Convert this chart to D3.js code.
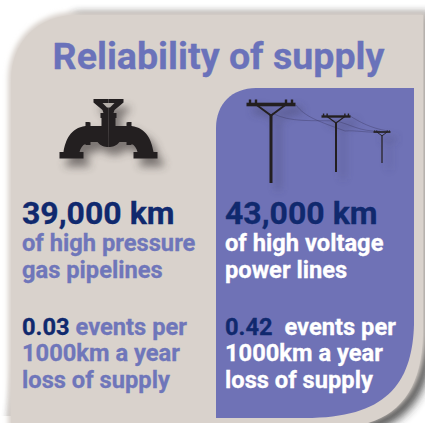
<!DOCTYPE html>
<html>
<head>
<meta charset="utf-8">
<script src="https://cdn.jsdelivr.net/npm/d3@7"></script>
<style>
  html, body { margin: 0; padding: 0; background: #fff; }
  svg { display: block; }
  text { font-family: Roboto, sans-serif; font-weight: 700; stroke-width: 0.3; }
</style>
</head>
<body>
<script>
const width = 425;
const height = 423;

const title = "Reliability of supply";
const lengthsKm = [39000, 43000];
const assetLines = [["of high pressure", "gas pipelines"], ["of high voltage", "power lines"]];
const eventRates = [0.03, 0.42];
const eventGaps = [" ", "\u00a0 "];
const eventLines = ["events per", "1000km a year", "loss of supply"];

const columnX = [22, 225];
const assetColor = ["#6f76ba", "#ffffff"];

const NAVY = "#10296e";
const PURPLE = "#6f72b6";
const BEIGE = "#d9d2cc";
const INK = "#231f20";

const svg = d3.select("body").append("svg").attr("width", width).attr("height", height);
const defs = svg.append("defs");

function blur(id, dev) {
  defs.append("filter")
    .attr("id", id)
    .attr("x", "-30%").attr("y", "-30%").attr("width", "160%").attr("height", "160%")
    .append("feGaussianBlur")
    .attr("stdDeviation", dev);
}
blur("soft", 2.5);
blur("cardShadow", 5);
blur("iconShadow", 4);

const cardCurve = "L426 335 C424 395 395 424 340 428 L8 428";
const blueCurve = "L414 325 C412 385 385 418 305 418 L216 418";

// card: soft top and left edge, hard curve at bottom right
svg.append("path")
  .attr("d", `M74 14 L432 14 L432 340 C432 400 400 432 345 436 L8 436 Z`)
  .attr("fill", "#2b2b2b")
  .attr("opacity", 0.8)
  .attr("filter", "url(#cardShadow)");
svg.append("rect")
  .attr("x", 0).attr("y", 416).attr("width", 330).attr("height", 7)
  .attr("fill", "#fff");
svg.append("path")
  .attr("d", `M76 12 L426 12 ${cardCurve} L8 80 C8 40 36 12 76 12 Z`)
  .attr("fill", BEIGE)
  .attr("filter", "url(#soft)");
svg.append("path")
  .attr("d", `M76 15 L423 15 L423 335 C421 395 395 424 340 428 L11 428 L11 80 C11 42 38 15 76 15 Z`)
  .attr("fill", BEIGE);

// blue panel
svg.append("path")
  .attr("d", `M256 88 L414 88 ${blueCurve} L216 128 C216 104 232 88 256 88 Z`)
  .attr("fill", PURPLE);

svg.append("text")
  .attr("x", 218.5).attr("y", 69)
  .attr("text-anchor", "middle")
  .attr("font-size", 37.6)
  .attr("fill", "#6a72ba")
  .attr("stroke", "#6a72ba")
  .text(title);

// valve, drawn on the centre line x = 0
const valve = svg.append("g").attr("transform", "translate(108.5,0)");
const half = "M0 99 L15 99 L15 102.5 L6 110 L5 113 L8 113 L8 118 L7 118 L7 126 L18 126 L18 122.5 Q18 122 20 122 L23 122 L23 126 C38 128 43 140 45 152 L49 152 L49 158.5 L25 158.5 L25 152 L29 152 C28 148 26 145 23 144 L23 145 L18 145 L18 142 L11 142 C8 146 4 147 0 147 Z";
const halves = [1, -1];

const valveDraw = (g) => {
  g.selectAll("path.half")
    .data(halves)
    .join("path")
    .attr("class", "half")
    .attr("d", half)
    .attr("transform", (d) => `scale(${d},1)`);
};
valve.append("g")
  .attr("transform", "translate(6,8)")
  .attr("fill", "#3a3634")
  .attr("opacity", 0.6)
  .attr("filter", "url(#iconShadow)")
  .call(valveDraw);
valve.append("g").attr("fill", INK).call(valveDraw);
valve.append("path")
  .attr("d", "M-6 103 L6 103 L1.5 107.5 L-1.5 107.5 Z")
  .attr("fill", "#b5afa9");

// power poles
const poleX = [271, 336, 382];
const poleArmY = [104.5, 116.5, 132];
const poleArmHalf = [24.5, 14.5, 8.5];
const poleBottom = [183, 172, 163];
const poleThick = [3, 2, 1.2];

const wires = [
  "M296 105 C305 117 318 121 345 131 C355 130 368 133 381 132",
  "M272 113 C290 123 315 120 336 121 C350 124 360 132 380 131",
  "M350 116 C360 122 370 128 388 131"
];

function drawPole(g, i) {
  const x = poleX[i], y = poleArmY[i], a = poleArmHalf[i], t = poleThick[i];
  const k = a / 24.5;
  g.append("rect")
    .attr("x", x - t / 2).attr("y", y + 10 * k)
    .attr("width", t).attr("height", poleBottom[i] - y - 10 * k);
  g.append("rect")
    .attr("x", x - a).attr("y", y - 1.5 * k - 0.3)
    .attr("width", 2 * a).attr("height", 3 * k + 0.6);
  g.append("path")
    .attr("d", `M${x - 15 * k} ${y} L${x} ${y + 11 * k} L${x + 15 * k} ${y}`)
    .attr("fill", "none")
    .attr("stroke", "currentColor")
    .attr("stroke-width", Math.max(0.9, 1.9 * k));
  [-21, -15, 15, 21].forEach((dx) => {
    g.append("rect")
      .attr("x", x + dx * k - 1.2 * k).attr("y", y - 5 * k)
      .attr("width", 2.4 * k).attr("height", 4 * k);
  });
}

poleX.forEach((_, i) => {
  const shadow = svg.append("g")
    .attr("transform", "translate(7,7)")
    .attr("fill", "#3f3f5e").attr("color", "#3f3f5e")
    .attr("opacity", 0.6)
    .attr("filter", "url(#iconShadow)");
  drawPole(shadow, i);
});
svg.selectAll("path.wire")
  .data(wires)
  .join("path")
  .attr("class", "wire")
  .attr("d", (d) => d)
  .attr("fill", "none")
  .attr("stroke", "#38365e")
  .attr("stroke-opacity", 0.75)
  .attr("stroke-width", 0.5);
poleX.forEach((_, i) => {
  drawPole(svg.append("g").attr("fill", INK).attr("color", INK), i);
});

// text columns
const formatKm = d3.format(",");
columnX.forEach((x, i) => {
  svg.append("text")
    .attr("x", x).attr("y", 224)
    .attr("font-size", 32)
    .attr("fill", NAVY)
    .attr("stroke", NAVY)
    .text(`${formatKm(lengthsKm[i])} km`);

  assetLines[i].forEach((line, j) => {
    svg.append("text")
      .attr("x", x).attr("y", 251 + j * 27)
      .attr("font-size", 23.7)
      .attr("fill", assetColor[i])
      .attr("stroke", assetColor[i])
      .text(line);
  });

  const rate = svg.append("text")
    .attr("x", x).attr("y", 335)
    .attr("font-size", 23.7)
    .attr("fill", assetColor[i])
    .attr("stroke", assetColor[i])
    .attr("xml:space", "preserve");
  rate.append("tspan").attr("fill", NAVY).attr("stroke", NAVY).text(eventRates[i].toFixed(2));
  rate.append("tspan").text(eventGaps[i] + eventLines[0]);

  eventLines.slice(1).forEach((line, j) => {
    svg.append("text")
      .attr("x", x).attr("y", 361 + j * 26.5)
      .attr("font-size", 23.7)
      .attr("fill", assetColor[i])
      .attr("stroke", assetColor[i])
      .text(line);
  });
});
</script>
</body>
</html>
